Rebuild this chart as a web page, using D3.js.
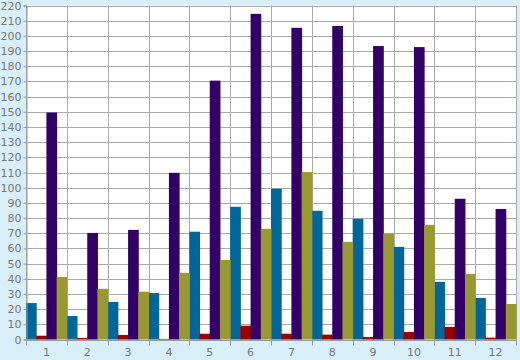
<!DOCTYPE html>
<html><head><meta charset="utf-8">
<script src="https://cdn.jsdelivr.net/npm/d3@7"></script>
<style>
html,body{margin:0;padding:0;background:#d9eff7;}
svg{display:block;}
text{font-family:"DejaVu Sans",Verdana,sans-serif;font-size:11px;fill:#777;}
</style></head>
<body>
<script>
const categories = ["1","2","3","4","5","6","7","8","9","10","11","12"];
const seriesNames = ["A","B","C","D"];
const seriesColors = ["#006699","#990000","#330066","#999933"];
const blueValues   = [24, 15.5, 24.7, 30.6, 71, 87.4, 99.3, 84.8, 79.5, 61, 38, 27.4];
const redValues    = [2.5, 1, 3, 0.4, 3.8, 9.1, 3.8, 3.2, 1.6, 5, 8.3, 1.2];
const purpleValues = [149.5, 70.2, 72.2, 109.8, 170.5, 214.5, 205.3, 206.5, 193.3, 192.6, 92.7, 86];
const oliveValues  = [41.2, 33.4, 31.5, 43.9, 52.4, 72.9, 110.3, 64.3, 69.8, 75.5, 43.2, 23.4];
const yTicks = d3.range(0, 221, 10);

(function () {
const seriesValues = [blueValues, redValues, purpleValues, oliveValues];
const W = 520, H = 360;
const mLeft = 26, mRight = 516, mTop = 5.5, mBottom = 339.5;

const svg = d3.select("body").append("svg").attr("width", W).attr("height", H);
svg.append("rect").attr("width", W).attr("height", H).attr("fill", "#d9eff7");

const x = d3.scaleBand().domain(categories).range([mLeft, mRight]).padding(0);
const xi = d3.scaleBand().domain(seriesNames).range([0, x.bandwidth()]).padding(0);
const y = d3.scaleLinear().domain([0, 220]).range([mBottom, mTop]);

svg.append("rect").attr("x", mLeft).attr("y", mTop).attr("width", mRight - mLeft).attr("height", mBottom - mTop).attr("fill", "#fff");

svg.append("g").selectAll("line").data(yTicks).join("line")
  .attr("x1", mLeft).attr("x2", mRight)
  .attr("y1", d => Math.round(y(d)) + 0.5).attr("y2", d => Math.round(y(d)) + 0.5)
  .attr("stroke", "#aaa").attr("stroke-width", 1);
const bounds = categories.map(c => x(c)).concat([mRight]);
svg.append("g").selectAll("line").data(bounds).join("line")
  .attr("x1", d => Math.round(d) + 0.5).attr("x2", d => Math.round(d) + 0.5)
  .attr("y1", mTop).attr("y2", mBottom)
  .attr("stroke", "#aaa").attr("stroke-width", 1);

const g = svg.append("g");
seriesValues.forEach((vals, si) => {
  g.append("g").selectAll("rect").data(vals).join("rect")
    .attr("x", (d, i) => x(categories[i]) + xi(seriesNames[si]))
    .attr("width", xi.bandwidth() + 0.5)
    .attr("y", d => y(d))
    .attr("height", d => y(0) - y(d))
    .attr("fill", seriesColors[si]);
});

const yAxis = d3.axisLeft(y).tickValues(yTicks).tickSize(3).tickPadding(2).tickFormat(d3.format("d"));
const ya = svg.append("g").attr("transform", `translate(${mLeft + 0.5},0)`).call(yAxis);
ya.select(".domain").attr("stroke", "#999");
ya.selectAll(".tick line").attr("stroke", "#999");
ya.selectAll("text").style("fill", "#777").style("font-size", "11px").style("font-family", "'DejaVu Sans',Verdana,sans-serif");

const xa = svg.append("g");
xa.append("line").attr("x1", mLeft).attr("x2", mRight).attr("y1", Math.round(mBottom) + 0.5).attr("y2", Math.round(mBottom) + 0.5).attr("stroke", "#999");
xa.selectAll("line.t").data(bounds).join("line").attr("class", "t")
  .attr("x1", d => Math.round(d) + 0.5).attr("x2", d => Math.round(d) + 0.5)
  .attr("y1", mBottom).attr("y2", mBottom + 6).attr("stroke", "#999");
xa.selectAll("text").data(categories).join("text")
  .attr("x", d => x(d) + x.bandwidth() / 2)
  .attr("y", mBottom + 16)
  .attr("text-anchor", "middle")
  .text(d => d);
})();
</script>
</body></html>
